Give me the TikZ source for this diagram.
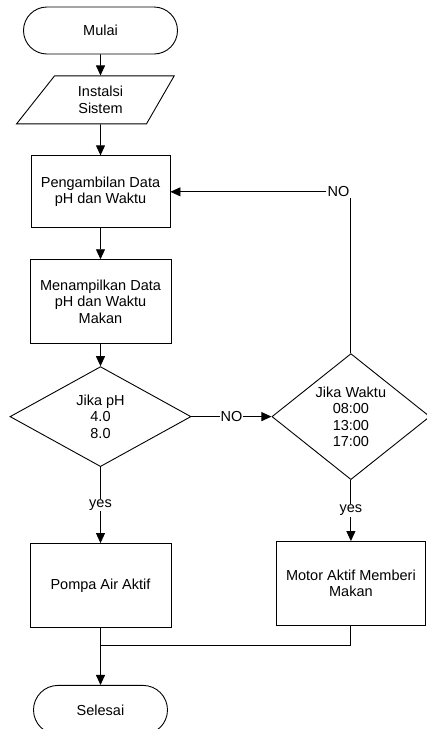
\documentclass[tikz,border=0pt]{standalone}
\usepackage{fontspec}
\setmainfont{Liberation Sans}
\usetikzlibrary{shapes.geometric,shapes.misc,arrows.meta,positioning}

\begin{document}
\begin{tikzpicture}[
  x=1pt, y=-1pt, line width=0.9pt,
  font=\fontsize{14.5}{16.5}\selectfont,
  term/.style={draw, rounded rectangle, minimum width=154pt, minimum height=47pt, inner sep=0pt},
  io/.style={draw, trapezium, trapezium stretches=true, trapezium left angle=55.5, trapezium right angle=116.6, minimum width=158pt, minimum height=48pt, align=center, inner sep=0pt},
  box/.style={draw, align=center, minimum width=141pt, minimum height=84pt, inner sep=0pt},
  dec/.style={draw, diamond, align=center, inner sep=0pt, aspect=1.3, minimum width=181pt, minimum height=100pt},
  lbl/.style={fill=white, inner sep=1pt},
  arr/.style={-{Triangle[length=10pt,width=9pt]}}
]
\useasboundingbox (0,0) rectangle (427,729);

\node[term] (mulai) at (100.5,30.5) {Mulai};
\node[io, below=21pt of mulai] (instalasi) {Instalsi\\Sistem};
\node[box, below=31pt of instalasi, minimum width=139pt, minimum height=72pt] (ambil) {Pengambilan Data\\pH dan Waktu};
\node[box, below=31pt of ambil] (tampil) {Menampilkan Data\\pH dan Waktu\\Makan};
\node[dec, below=22pt of tampil] (cekph) {Jika pH\\4.0\\8.0};
\node[box, below=76pt of cekph] (pompa) {Pompa Air Aktif};
\node[term, below=57pt of pompa, minimum width=134pt, minimum height=49pt] (selesai) {Selesai};

\node[dec, right=80pt of cekph, minimum width=158pt, minimum height=126pt] (cekwaktu) {Jika Waktu\\08:00\\13:00\\17:00};
\node[box, below=61pt of cekwaktu, minimum width=149pt] (motor) {Motor Aktif Memberi\\Makan};

\node[lbl, anchor=east] (nolbl) at (cekwaktu.north |- ambil.east) {NO};
\coordinate (gabung) at ([yshift=-17pt]pompa.south);

\draw[arr] (mulai) -- (instalasi);
\draw[arr] (instalasi) -- (ambil);
\draw[arr] (ambil) -- (tampil);
\draw[arr] (tampil) -- (cekph);
\draw[arr] (cekph) -- node[lbl]{yes} (pompa);
\draw[arr] (cekph) -- node[lbl]{NO} (cekwaktu);
\draw[arr] (cekwaktu) -- node[lbl]{yes} (motor);
\draw (cekwaktu.north) -- (cekwaktu.north |- nolbl.south);
\draw[arr] (nolbl) -- (ambil);
\draw (motor.south) |- (gabung);
\draw[arr] (pompa) -- (selesai);
\end{tikzpicture}
\end{document}
